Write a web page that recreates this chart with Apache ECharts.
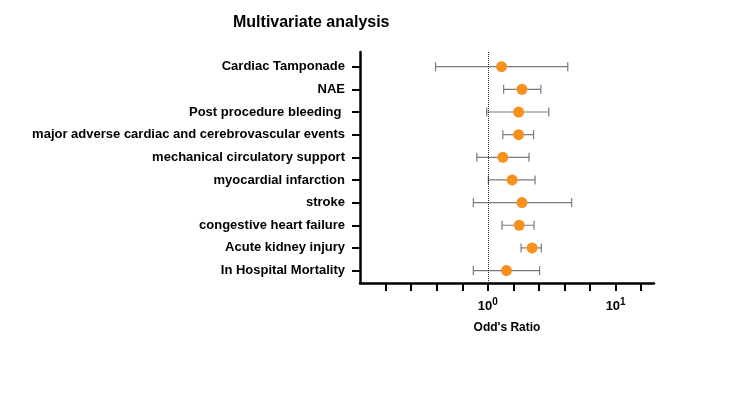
<!DOCTYPE html>
<html>
<head>
<meta charset="utf-8">
<title>Multivariate analysis</title>
<script src="https://cdn.jsdelivr.net/npm/echarts@6/dist/echarts.min.js"></script>
<style>
    html, body { margin: 0; padding: 0; background: #fff; }
    #chart { width: 750px; height: 407px; }
</style>
</head>
<body>
<div id="chart"></div>
<script>
// outcomes, top to bottom
const categories = [
    'Cardiac Tamponade',
    'NAE',
    'Post procedure bleeding ',
    'major adverse cardiac and cerebrovascular events',
    'mechanical circulatory support',
    'myocardial infarction',
    'stroke',
    'congestive heart failure',
    'Acute kidney injury',
    'In Hospital Mortality'
]
// odds ratio with 95% CI
const oddsRatio = [1.28, 1.85, 1.74, 1.74, 1.31, 1.55, 1.85, 1.76, 2.22, 1.40]
const ciLower = [0.39, 1.33, 0.98, 1.31, 0.82, 1.01, 0.77, 1.29, 1.82, 0.77]
const ciUpper = [4.22, 2.60, 3.00, 2.28, 2.10, 2.34, 4.53, 2.30, 2.62, 2.54]
// log10 exponents that get a "10^n" label, and where the ticks go
const labelExponents = [0, 1]
const tickExponents = [-0.8, -0.6, -0.4, -0.2, 0, 0.2, 0.4, 0.6, 0.8, 1, 1.2]

const font = 'Liberation Sans, Arial, Helvetica, sans-serif'
const orange = '#F7911E'
const rows = categories.map((c, i) => i)

const chart = echarts.init(document.getElementById('chart'))

chart.setOption({
    animation: false,
    textStyle: { fontFamily: font },
    title: {
        text: 'Multivariate analysis',
        left: 228,
        top: 10,
        textStyle: { fontSize: 16, fontWeight: 'bold', color: '#000', fontFamily: font }
    },
    grid: { left: 360, right: 96, top: 52, bottom: 124 },
    xAxis: {
        type: 'value',
        min: -1,
        max: 1.3,
        name: "Odd's Ratio",
        nameLocation: 'middle',
        nameGap: 39,
        nameTextStyle: { fontSize: 12, fontWeight: 'bold', color: '#000', fontFamily: font },
        splitLine: { show: false },
        axisLine: { onZero: false, lineStyle: { color: '#000', width: 2.5 } },
        axisTick: { customValues: tickExponents, length: 8, lineStyle: { color: '#000', width: 2 } },
        axisLabel: {
            customValues: labelExponents,
            margin: 14,
            formatter: v => '{b|10}{s|' + Math.round(v) + '}',
            rich: {
                b: { fontSize: 13, fontWeight: 'bold', color: '#000', fontFamily: font, lineHeight: 18 },
                s: { fontSize: 10, fontWeight: 'bold', color: '#000', fontFamily: font, lineHeight: 10, verticalAlign: 'top' }
            }
        }
    },
    yAxis: {
        type: 'value',
        inverse: true,
        min: -0.65,
        max: 9.55,
        splitLine: { show: false },
        axisLine: { onZero: false, lineStyle: { color: '#000', width: 2.5 } },
        axisTick: { customValues: rows, length: 8, lineStyle: { color: '#000', width: 2 } },
        axisLabel: {
            customValues: rows,
            margin: 15,
            fontSize: 13,
            fontWeight: 'bold',
            color: '#000',
            fontFamily: font,
            formatter: v => categories[Math.round(v)]
        }
    },
    series: [
        {
            type: 'custom',
            name: 'CI',
            z: 3,
            renderItem(params, api) {
                const y = api.value(2)
                const a = api.coord([api.value(0), y])
                const b = api.coord([api.value(1), y])
                const h = 4.5
                const style = { stroke: '#7a7a7a', lineWidth: 1.2 }
                return {
                    type: 'group',
                    children: [
                        { type: 'line', shape: { x1: a[0], y1: a[1], x2: b[0], y2: b[1] }, style },
                        { type: 'line', shape: { x1: a[0], y1: a[1] - h, x2: a[0], y2: a[1] + h }, style },
                        { type: 'line', shape: { x1: b[0], y1: b[1] - h, x2: b[0], y2: b[1] + h }, style }
                    ]
                }
            },
            data: rows.map(i => [Math.log10(ciLower[i]), Math.log10(ciUpper[i]), i])
        },
        {
            type: 'scatter',
            name: 'OR',
            z: 4,
            symbolSize: 11,
            itemStyle: { color: orange, opacity: 1 },
            data: rows.map(i => [Math.log10(oddsRatio[i]), i]),
            markLine: {
                silent: true,
                symbol: 'none',
                label: { show: false },
                lineStyle: { color: '#222', type: 'dotted', width: 1 },
                data: [{ xAxis: 0 }]
            }
        }
    ]
})
</script>
</body>
</html>
